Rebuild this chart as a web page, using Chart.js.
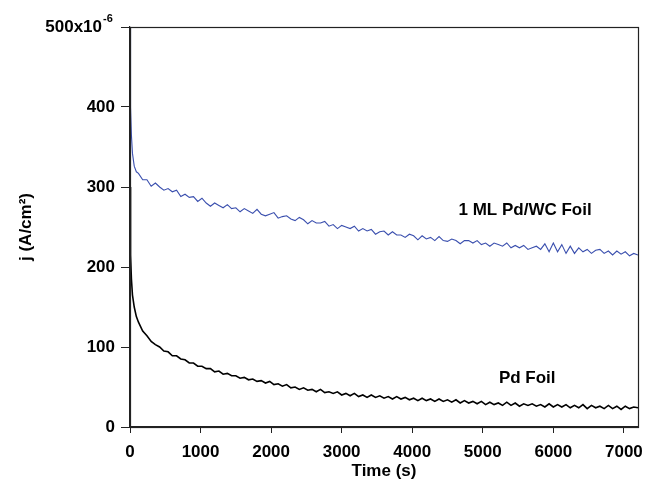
<!DOCTYPE html>
<html>
<head>
<meta charset="utf-8">
<script src="https://cdn.jsdelivr.net/npm/chart.js@4/dist/chart.umd.min.js"></script>
<style>
  html, body { margin: 0; padding: 0; background: #fff; }
  #wrap { width: 645px; height: 486px; }
</style>
</head>
<body>
<div id="wrap"><canvas id="chart" width="645" height="486"></canvas></div>
<script>
// time (s)
const times = [0, 5, 10, 20, 35, 60, 90,
    120, 180, 240, 300, 360, 420, 480, 540, 600, 660, 720, 780, 840, 900, 960,
    1020, 1080, 1140, 1200, 1260, 1320, 1380, 1440, 1500, 1560, 1620, 1680, 1740, 1800, 1860, 1920, 1980,
    2040, 2100, 2160, 2220, 2280, 2340, 2400, 2460, 2520, 2580, 2640, 2700, 2760, 2820, 2880, 2940, 3000,
    3060, 3120, 3180, 3240, 3300, 3360, 3420, 3480, 3540, 3600, 3660, 3720, 3780, 3840, 3900, 3960,
    4020, 4080, 4140, 4200, 4260, 4320, 4380, 4440, 4500, 4560, 4620, 4680, 4740, 4800, 4860, 4920, 4980,
    5040, 5100, 5160, 5220, 5280, 5340, 5400, 5460, 5520, 5580, 5640, 5700, 5760, 5820, 5880, 5940, 6000,
    6060, 6120, 6180, 6240, 6300, 6360, 6420, 6480, 6540, 6600, 6660, 6720, 6780, 6840, 6900, 6960,
    7020, 7080, 7140, 7200];

// j, x10^-6 A/cm2, 1 ML Pd/WC foil
const pdwcFoil = [500, 440, 400, 365, 342, 326, 319,
    317, 309, 309, 301, 305, 300, 296, 298, 294, 296, 288, 291, 287, 288, 282,
    286, 280, 276, 280, 277, 274, 278, 273, 274, 269, 273, 270, 267, 272, 266, 264, 266,
    268, 261, 263, 264, 260, 258, 262, 259, 254, 258, 255, 255, 257, 251, 253, 248, 252,
    250, 248, 251, 245, 248, 245, 247, 241, 244, 245, 240, 244, 240, 240, 237, 241,
    239, 234, 239, 235, 237, 233, 238, 233, 232, 235, 233, 229, 233, 233, 230, 233, 228,
    230, 226, 230, 228, 226, 230, 224, 227, 224, 227, 222, 224, 226, 222, 229, 219, 230,
    219, 228, 217, 226, 217, 224, 219, 222, 217, 221, 222, 217, 220, 215, 220, 216,
    219, 214, 217, 215];

// j, x10^-6 A/cm2, Pd foil
const pdFoil = [300, 255, 215, 185, 165, 150, 138,
    131, 120, 114, 107, 103, 100, 95, 94, 89, 89, 85, 84, 80, 80, 76,
    76, 73, 73, 69, 70, 66, 67, 64, 64, 61, 62, 59, 60, 57, 58, 55, 57,
    53, 54, 51, 53, 49, 50, 47, 49, 46, 47, 44, 47, 43, 44, 42, 44, 40,
    42, 39, 42, 38, 40, 37, 40, 37, 39, 36, 38, 35, 38, 35, 37, 34,
    36, 33, 36, 33, 35, 32, 35, 32, 34, 31, 34, 30, 33, 30, 32, 29, 32,
    28, 31, 28, 30, 27, 31, 27, 30, 26, 29, 27, 29, 26, 28, 25, 29, 25,
    28, 25, 28, 24, 27, 24, 28, 23, 27, 24, 26, 23, 27, 23, 26, 22,
    26, 23, 25, 24];

const xTicks = [0, 1000, 2000, 3000, 4000, 5000, 6000, 7000];
const yTicks = [0, 100, 200, 300, 400, 500];

const FONT = "'Liberation Sans', Arial, sans-serif";

const framePlugin = {
    id: 'frame',
    afterDraw(chart) {
        const { ctx, chartArea: a, scales } = chart;
        ctx.save();
        ctx.strokeStyle = '#222';
        ctx.lineWidth = 1.2;
        ctx.strokeRect(Math.round(a.left) + 0.5, Math.round(a.top) + 0.5,
            Math.round(a.right - a.left), Math.round(a.bottom - a.top));

        // top y label with superscript exponent
        const yTop = scales.y.getPixelForValue(500);
        ctx.fillStyle = '#000';
        ctx.font = 'bold 17px ' + FONT;
        ctx.textAlign = 'right';
        ctx.textBaseline = 'middle';
        ctx.fillText('500x10', 102, yTop);
        ctx.font = 'bold 11px ' + FONT;
        ctx.textAlign = 'left';
        ctx.fillText('-6', 103, yTop - 8);

        // series labels
        ctx.font = 'bold 17px ' + FONT;
        ctx.textAlign = 'center';
        ctx.fillText('1 ML Pd/WC Foil', scales.x.getPixelForValue(5600), scales.y.getPixelForValue(271));
        ctx.fillText('Pd Foil', scales.x.getPixelForValue(5630), scales.y.getPixelForValue(61));
        ctx.restore();
    }
};

const chartCtx = document.getElementById('chart').getContext('2d');

const chart = new Chart(chartCtx, {
    type: 'line',
    data: {
        datasets: [{
            label: '1 ML Pd/WC Foil',
            data: times.map((t, i) => ({ x: t, y: pdwcFoil[i] })),
            borderColor: '#3a4fae',
            borderWidth: 1.1,
            pointRadius: 0,
            tension: 0
        }, {
            label: 'Pd Foil',
            data: times.map((t, i) => ({ x: t, y: pdFoil[i] })),
            borderColor: '#000',
            borderWidth: 1.6,
            pointRadius: 0,
            tension: 0
        }]
    },
    options: {
        responsive: false,
        animation: false,
        layout: { padding: { left: 0, right: 7, top: 27, bottom: 0 } },
        plugins: {
            legend: { display: false },
            tooltip: { enabled: false }
        },
        scales: {
            x: {
                type: 'linear',
                min: 0,
                max: 7200,
                afterBuildTicks: axis => { axis.ticks = xTicks.map(v => ({ value: v })); },
                afterFit: scale => {
                    scale.height = 59;
                    scale.paddingLeft = 0;
                    scale.paddingRight = 0;
                },
                grid: { drawOnChartArea: false, drawTicks: true, tickLength: 6, color: '#222' },
                border: { color: '#222', width: 1.2 },
                ticks: {
                    padding: 9,
                    color: '#000',
                    maxRotation: 0,
                    font: { family: FONT, size: 17, weight: 'bold' },
                    callback: v => String(v)
                },
                title: {
                    display: true,
                    text: 'Time (s)',
                    color: '#000',
                    padding: { top: 0, bottom: 4 },
                    font: { family: FONT, size: 17, weight: 'bold' }
                }
            },
            y: {
                min: 0,
                max: 500,
                afterBuildTicks: axis => { axis.ticks = yTicks.map(v => ({ value: v })); },
                afterFit: scale => { scale.width = 130; },
                grid: { drawOnChartArea: false, drawTicks: true, tickLength: 9, color: '#222' },
                border: { color: '#222', width: 1.2 },
                ticks: {
                    padding: 6,
                    color: '#000',
                    font: { family: FONT, size: 17, weight: 'bold' },
                    callback: v => (v === 500 ? '' : String(v))
                },
                title: {
                    display: true,
                    text: 'j (A/cm²)',
                    color: '#000',
                    padding: { top: 16, bottom: 0 },
                    font: { family: FONT, size: 17, weight: 'bold' }
                }
            }
        }
    },
    plugins: [framePlugin]
});
</script>
</body>
</html>
